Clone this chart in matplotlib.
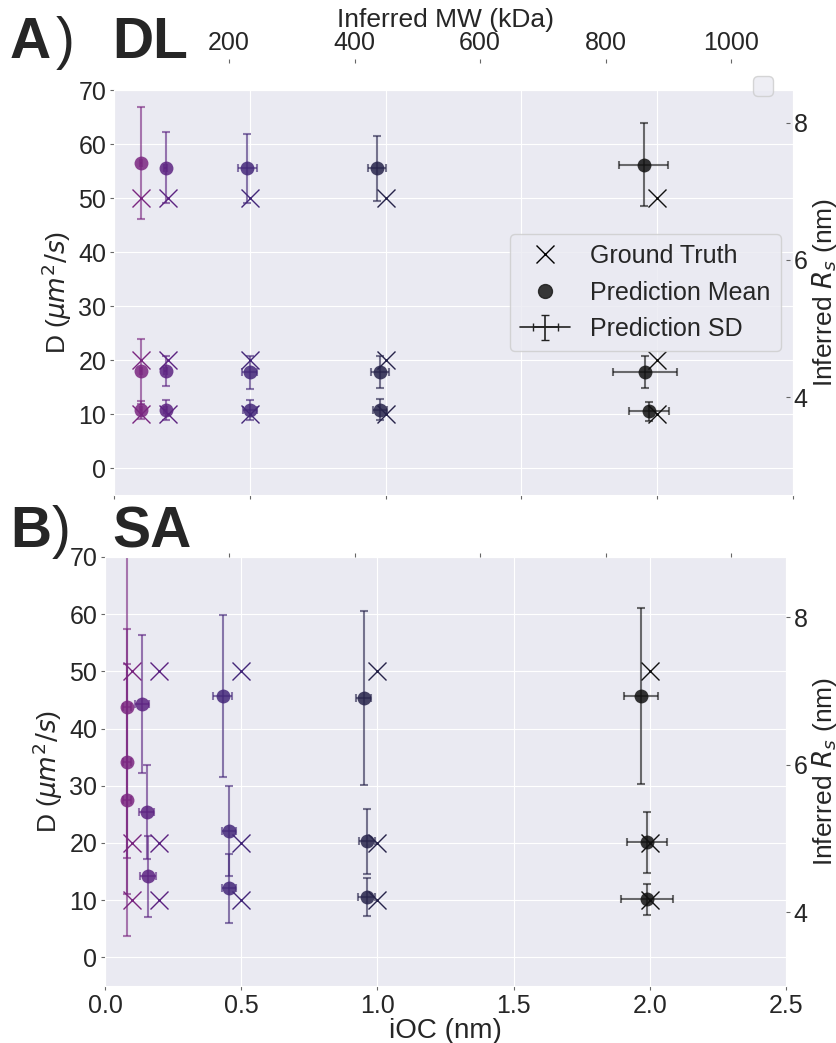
import numpy as np
import matplotlib
matplotlib.use("Agg")
import matplotlib.pyplot as plt
from matplotlib.lines import Line2D
import seaborn as sns

sns.set_style("darkgrid")
plt.rcParams['font.family'] = ['Liberation Sans', 'DejaVu Sans']

# ground truth values (same for both panels)
gt_ioc = [0.1, 0.2, 0.5, 1.0, 2.0]
gt_D = [50, 20, 10]

# DL predictions: one row per ground-truth iOC, columns follow gt_D (50, 20, 10)
dl_ioc = [[0.10, 0.10, 0.10], [0.19, 0.19, 0.19], [0.49, 0.50, 0.50],
          [0.97, 0.98, 0.98], [1.95, 1.955, 1.97]]
dl_ioc_sd = [[0.004, 0.004, 0.004], [0.006, 0.006, 0.006], [0.035, 0.028, 0.025],
             [0.033, 0.032, 0.026], [0.09, 0.118, 0.075]]
dl_D = [[56.5, 17.9, 10.7], [55.6, 17.9, 10.7], [55.5, 17.7, 10.7],
        [55.5, 17.8, 10.8], [56.2, 17.8, 10.5]]
dl_D_sd = [[10.3, 6.0, 1.7], [6.6, 2.75, 1.9], [6.4, 3.0, 1.9],
           [6.0, 3.0, 1.9], [7.6, 2.9, 1.8]]

# SA predictions
sa_ioc = [[0.08, 0.08, 0.08], [0.135, 0.153, 0.158], [0.433, 0.455, 0.455],
          [0.95, 0.962, 0.96], [1.968, 1.99, 1.99]]
sa_ioc_sd = [[0.015, 0.015, 0.015], [0.025, 0.028, 0.028], [0.035, 0.025, 0.025],
             [0.028, 0.03, 0.03], [0.063, 0.072, 0.094]]
sa_D = [[43.8, 34.2, 27.5], [44.3, 25.4, 14.2], [45.7, 22.1, 12.1],
        [45.3, 20.3, 10.5], [45.7, 20.1, 10.2]]
sa_D_sd = [[26.4, 23.2, 23.8], [12.1, 8.2, 7.1], [14.2, 7.8, 6.0],
           [15.2, 5.7, 3.3], [15.3, 5.3, 2.7]]

group_colors = ['#7a2680', '#5c2381', '#432779', '#26234a', '#111111']

mw_ticks = [200, 400, 600, 800, 1000]
rs_ticks = [4, 6, 8]

W, H = 837, 1043
TICKS = dict(labelsize=18, length=3, width=0.8, color='0.4', pad=2.5)


def box(left, top, right, bottom):
    return [left / W, 1 - bottom / H, (right - left) / W, (bottom - top) / H]


def bare(ax):
    # overlay axes: no background, no grid, no spines
    ax.patch.set_visible(False)
    ax.grid(False)
    for s in ax.spines.values():
        s.set_visible(False)


def draw_panel(ax, xs, xsd, ds, dsd):
    for g, col in enumerate(group_colors):
        for k in range(len(gt_D)):
            ax.errorbar(xs[g][k], ds[g][k], xerr=xsd[g][k], yerr=dsd[g][k],
                        fmt='none', ecolor=col, alpha=0.6, elinewidth=1.5,
                        capsize=3, capthick=1.5, zorder=2)
            ax.plot(xs[g][k], ds[g][k], 'o', color=col, alpha=0.85, ms=10,
                    mec='none', zorder=3)
        for d in gt_D:
            ax.plot(gt_ioc[g], d, 'x', color=col, ms=13, mew=1.0, zorder=4)
    ax.set_xlim(0, 2.5)
    ax.set_ylim(-5, 70)
    ax.set_yticks(range(0, 71, 10))
    ax.set_xticks([0, 0.5, 1.0, 1.5, 2.0, 2.5])
    ax.tick_params(axis='both', left=True, bottom=True, **TICKS)
    ax.set_ylabel(r'D ($\mu m^2/s$)', fontsize=19, labelpad=3)


def rs_axis(rect, lims):
    rs = fig.add_axes(rect)
    bare(rs)
    rs.set_xticks([])
    rs.yaxis.tick_right()
    rs.yaxis.set_label_position('right')
    rs.set_ylim(*lims)
    rs.set_yticks(rs_ticks)
    rs.tick_params(axis='y', right=True, left=False, **TICKS)
    rs.set_ylabel(r'Inferred $R_s$ (nm)', fontsize=19, labelpad=1.5)
    return rs


def mw_axis(rect, labels):
    mw = fig.add_axes(rect)
    bare(mw)
    mw.set_yticks([])
    mw.set_xlim(2.4, 1087.6)
    mw.set_xticks(mw_ticks)
    mw.xaxis.tick_top()
    mw.xaxis.set_label_position('top')
    mw.tick_params(axis='x', top=True, bottom=False, labeltop=labels,
                   labelbottom=False, **TICKS)
    return mw


fig = plt.figure(figsize=(W / 100, H / 100), dpi=100)

# ---- panel A: DL
ax_a = fig.add_axes(box(114, 90, 793, 495))
draw_panel(ax_a, dl_ioc, dl_ioc_sd, dl_D, dl_D_sd)
ax_a.tick_params(axis='x', labelbottom=False)

mw_a = mw_axis(box(105, 63, 786, 495), True)
mw_a.set_xlabel('Inferred MW (kDa)', fontsize=19, labelpad=3)
mw_a.legend(handles=[], loc='upper right', fontsize=18)
rs_axis(box(105, 90, 786, 495), (2.57, 8.48))

gt_h = Line2D([], [], marker='x', ls='', color='k', ms=13, mew=1.0)
mean_h = Line2D([], [], marker='o', ls='', color='#222222', ms=10, alpha=0.9)
sd_h = ax_a.errorbar([np.nan], [np.nan], xerr=[1], yerr=[1], fmt='-', color='#222222',
                     capsize=3, elinewidth=1.2, lw=1.2)
ax_a.legend([gt_h, mean_h, sd_h], ['Ground Truth', 'Prediction Mean', 'Prediction SD'],
            loc='center right', fontsize=18)

fig.text(10 / W, 1 - 58 / H, 'A', fontsize=41, weight='bold', va='baseline')
fig.text(56 / W, 1 - 58 / H, ')', fontsize=41, va='baseline')
fig.text(112 / W, 1 - 58 / H, 'DL', fontsize=41, weight='bold', va='baseline')

# ---- panel B: SA
ax_b = fig.add_axes(box(105, 557, 786, 986))
draw_panel(ax_b, sa_ioc, sa_ioc_sd, sa_D, sa_D_sd)
ax_b.set_xlabel('iOC (nm)', fontsize=20, labelpad=0)

mw_axis(box(105, 557, 786, 986), False)
rs_axis(box(105, 557, 786, 986), (3.0, 8.82))

fig.text(10 / W, 1 - 547 / H, 'B', fontsize=41, weight='bold', va='baseline')
fig.text(52 / W, 1 - 547 / H, ')', fontsize=41, va='baseline')
fig.text(112 / W, 1 - 547 / H, 'SA', fontsize=41, weight='bold', va='baseline')

fig.savefig('out.png', dpi=100)
